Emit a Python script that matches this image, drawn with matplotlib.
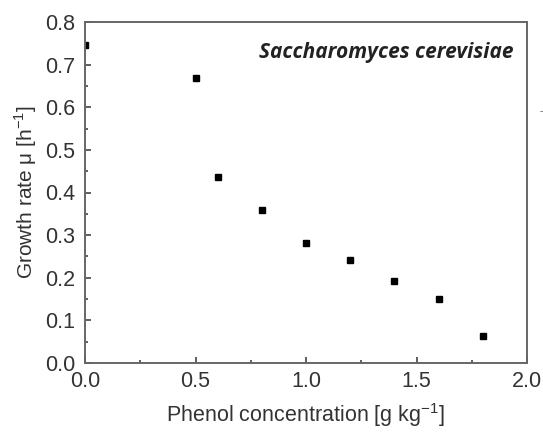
import matplotlib
matplotlib.use("Agg")
import matplotlib.pyplot as plt
from matplotlib.ticker import MultipleLocator

# phenol concentration [g/kg] and growth rate [1/h]
phenol = [0.0, 0.5, 0.6, 0.8, 1.0, 1.2, 1.4, 1.6, 1.8]
growth = [0.745, 0.669, 0.436, 0.358, 0.282, 0.242, 0.193, 0.149, 0.063]

plt.rcParams['font.family'] = ['Liberation Sans', 'DejaVu Sans']
plt.rcParams['mathtext.fontset'] = 'custom'
plt.rcParams['mathtext.rm'] = 'Liberation Sans'

fig = plt.figure(figsize=(5.43, 4.32), dpi=100)
ax = fig.add_axes([85/543, 69/432, 442/543, 341/432])

ax.plot(phenol, growth, 's', color='black', ms=4.5, clip_on=True)

ax.set_xlim(0, 2.0)
ax.set_ylim(0, 0.8)
ax.xaxis.set_major_locator(MultipleLocator(0.5))
ax.xaxis.set_minor_locator(MultipleLocator(0.25))
ax.yaxis.set_major_locator(MultipleLocator(0.1))
ax.yaxis.set_minor_locator(MultipleLocator(0.05))
ax.xaxis.set_major_formatter(plt.FormatStrFormatter('%.1f'))
ax.yaxis.set_major_formatter(plt.FormatStrFormatter('%.1f'))

grey = '#666666'
for s in ax.spines.values():
    s.set_color(grey)
    s.set_linewidth(1.4)
ax.tick_params(which='both', direction='in', top=False, right=False,
               color='#444444', labelcolor='#333333', labelsize=15.5)
ax.tick_params(which='major', length=4, width=1.2)
ax.tick_params(which='minor', length=2.5, width=1.2)
ax.tick_params(axis='x', pad=6)
ax.tick_params(axis='y', pad=7)

ax.set_xlabel(r'Phenol concentration [g kg$^{\mathregular{-1}}$]', fontsize=15.5, color='#333333', labelpad=6)
ax.set_ylabel(r'Growth rate μ [h$^{\mathregular{-1}}$]', fontsize=15, color='#333333', labelpad=4)

ax.text(0.97, 0.91, 'Saccharomyces cerevisiae', transform=ax.transAxes,
        ha='right', va='center', fontsize=15, fontstyle='italic',
        fontweight='bold', family='Open Sans', color='#222222')

fig.text(541/543, 1 - 111/432, '-', fontsize=7, color='#555555', ha='center', va='center')

fig.savefig('out.png', dpi=100)
